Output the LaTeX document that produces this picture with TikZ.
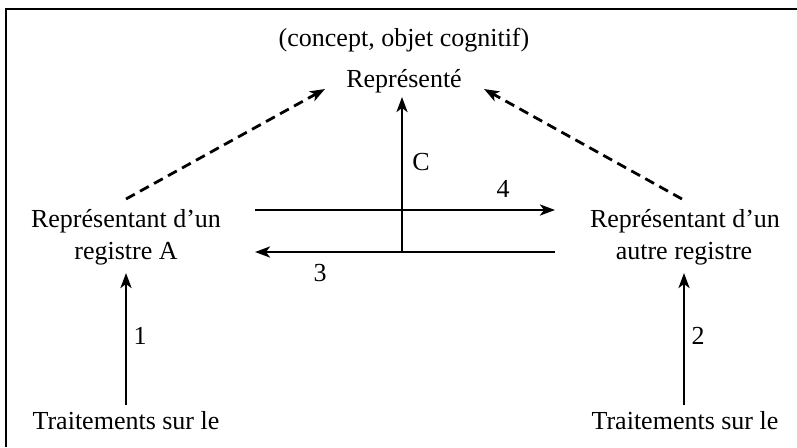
\documentclass[tikz,border=0pt]{standalone}
\usepackage{fontspec}
\setmainfont{Liberation Serif}
\usetikzlibrary{arrows.meta}
\begin{document}
\begin{tikzpicture}[x=1pt,y=-1pt,
  lbl/.style={anchor=base,inner sep=0pt,font=\fontsize{26}{32}\selectfont},
  arr/.style={line width=2.8pt,-{Stealth[length=15pt,width=11pt,inset=4pt]}},
  darr/.style={arr,dash pattern=on 10pt off 6pt}]
\useasboundingbox (0,0) rectangle (797,447);
\draw[line width=2.8pt] (6,447) -- (6,9) -- (797,9);
% texts
\node[lbl] (concept) at (404,46) {(concept, objet cognitif)};
\node[lbl] (rep) at (404,87) {Représenté};
\node[lbl] (RA1) at (126,227) {Représentant d’un};
\node[lbl] (RA2) at (126,259) {registre A};
\node[lbl] (RB1) at (685,227) {Représentant d’un};
\node[lbl] (RB2) at (684,259) {autre registre};
\node[lbl] (TA) at (126,429) {Traitements sur le};
\node[lbl] (TB) at (685,429) {Traitements sur le};
\node[lbl] (l1) at (140,344) {1};
\node[lbl] (l2) at (698,344) {2};
\node[lbl] (l3) at (320,281) {3};
\node[lbl] (l4) at (503,197) {4};
\node[lbl] (lC) at (421,170) {C};
% connector ends
\coordinate (a1s) at (126,405); \coordinate (a1e) at (126,273);
\coordinate (a2s) at (684,405); \coordinate (a2e) at (684,273);
\coordinate (a4s) at (255,210); \coordinate (a4e) at (555,210);
\coordinate (a3s) at (555,252); \coordinate (a3e) at (255,252);
\coordinate (cS) at (402,252);  \coordinate (cE) at (402,97);
\coordinate (dLs) at (126,199); \coordinate (dLe) at (325,89);
\coordinate (dRs) at (682,199); \coordinate (dRe) at (484,89);
% connectors
\draw[arr] (a1s) -- (a1e);
\draw[arr] (a2s) -- (a2e);
\draw[arr] (a4s) -- (a4e);
\draw[arr] (a3s) -- (a3e);
\draw[arr] (cS) -- (cE);
\draw[darr] (dLs) -- (dLe);
\draw[darr] (dRs) -- (dRe);
\end{tikzpicture}
\end{document}
